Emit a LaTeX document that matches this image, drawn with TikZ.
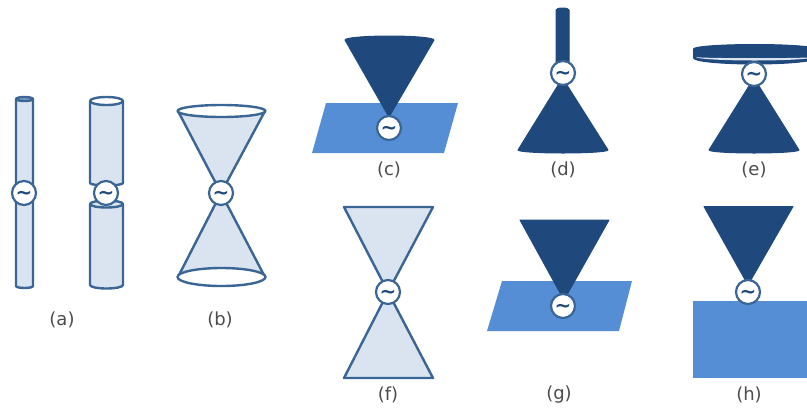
\documentclass[tikz,border=0pt]{standalone}
\usepackage{amsmath,amssymb}
\usepackage{fontspec}
\setsansfont{DejaVu Sans}
\usepackage{xcolor}
\definecolor{lineblue}{HTML}{3A6594}
\definecolor{lightblue}{HTML}{DAE3F0}
\definecolor{darkblue}{HTML}{1F497D}
\definecolor{plateblue}{HTML}{558ED5}
\newcommand{\srcwave}{\smash{\raisebox{-.33em}{∼}}}

\begin{document}
\begin{tikzpicture}[x=1pt, y=-1pt,
  light/.style={draw=lineblue, line width=2.4pt, fill=lightblue, line join=round},
  dark/.style={draw=darkblue, line width=1pt, fill=darkblue, line join=round},
  plate/.style={fill=plateblue},
  source/.style={circle, draw=lineblue, line width=2.2pt, fill=white, minimum size=24pt, inner sep=0pt, text=darkblue, font=\sffamily\bfseries\fontsize{20}{20}\selectfont},
  caption/.style={font=\sffamily\fontsize{18}{18}\selectfont, text=black!70, inner sep=0pt}]
  \useasboundingbox (0,0) rectangle (807,408);

  % (a)
  \draw[light] (16,99) -- (16,286) arc[start angle=180, end angle=0, x radius=8.5, y radius=2] -- (33,99);
  \draw[light, fill=lineblue!60] (24.5,99) ellipse[x radius=8.5, y radius=2];
  \draw[light] (90,101) -- (90,183) arc[start angle=180, end angle=0, x radius=16.5, y radius=2.5] -- (123,101);
  \draw[light, fill=white] (106.5,101) ellipse[x radius=16.5, y radius=4];
  \draw[light] (90,204) -- (90,285) arc[start angle=180, end angle=0, x radius=16.5, y radius=3.5] -- (123,204);
  \draw[light] (106.5,204) ellipse[x radius=16.5, y radius=3.5];
  \node[source] (sa1) at (24,193) {\srcwave};
  \node[source] (sa2) at (106,193) {\srcwave};
  \node[caption] (la) at (62,320) {(a)};

  % (b)
  \draw[light] (178,111) -- (221,193) -- (265,111) -- cycle;
  \draw[light, fill=white] (221.5,111) ellipse[x radius=44, y radius=6];
  \draw[light] (178,277) -- (221,193) -- (265,277) -- cycle;
  \draw[light, fill=white] (221.5,277) ellipse[x radius=44, y radius=9];
  \node[source] (sb) at (221,193) {\srcwave};
  \node[caption] (lb) at (220,320) {(b)};

  % (c)
  \fill[plate] (326,103) -- (458,103) -- (444,153) -- (312,153) -- cycle;
  \draw[dark] (345,40) arc[start angle=180, end angle=360, x radius=44.5, y radius=4] -- (389,117) -- cycle;
  \node[source] (sc) at (389,128) {\srcwave};
  \node[caption] (lc) at (389,170) {(c)};

  % (d)
  \draw[dark] (556,10) arc[start angle=180, end angle=360, x radius=6.5, y radius=2] -- (569,70) -- (556,70) -- cycle;
  \draw[dark] (562.5,78) -- (608,150) arc[start angle=0, end angle=180, x radius=45, y radius=3] -- cycle;
  \node[source] (sd) at (563,73) {\srcwave};
  \node[caption] (ld) at (563,170) {(d)};

  % (e)
  \draw[dark] (693.5,49) arc[start angle=180, end angle=360, x radius=61, y radius=4.5] -- (815.5,58) arc[start angle=0, end angle=180, x radius=61, y radius=6] -- cycle;
  \fill[lightblue] (696,57) arc[start angle=180, end angle=0, x radius=58.5, y radius=1.2] arc[start angle=0, end angle=180, x radius=58.5, y radius=3.5] -- cycle;
  \draw[dark] (754,78) -- (799,150) arc[start angle=0, end angle=180, x radius=45, y radius=3] -- cycle;
  \node[source] (se) at (754,74) {\srcwave};
  \node[caption] (le) at (754,170) {(e)};

  % (f)
  \draw[light] (344,207) -- (433,207) -- (388,292) -- cycle;
  \draw[light] (344,378) -- (433,378) -- (388,292) -- cycle;
  \node[source] (sf) at (388,292) {\srcwave};
  \node[caption] (lf) at (388,395) {(f)};

  % (g)
  \fill[plate] (502,281) -- (632,281) -- (619,331) -- (487,331) -- cycle;
  \draw[dark] (520,220) -- (609,220) -- (564,300) -- cycle;
  \node[source] (sg) at (563,306) {\srcwave};
  \node[caption] (lg) at (559,395) {(g)};

  % (h)
  \fill[plate] (693,301) rectangle (807,378);
  \draw[dark] (704,206.5) -- (793,206.5) -- (748,285) -- cycle;
  \node[source] (sh) at (748,292) {\srcwave};
  \node[caption] (lh) at (749,395) {(h)};
\end{tikzpicture}
\end{document}
